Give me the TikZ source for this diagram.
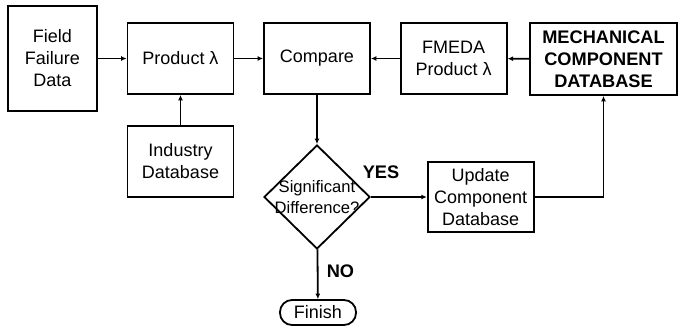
\documentclass[tikz,border=0pt]{standalone}
\usepackage{fontspec}
\setmainfont{Liberation Sans}
\usetikzlibrary{shapes.geometric,arrows.meta}
\begin{document}
\begin{tikzpicture}[x=1pt,y=-1pt,
  font=\fontsize{18}{22}\selectfont,
  every node/.style={align=center, inner sep=0pt},
  blk/.style={draw, line width=1.8pt, minimum width=106pt, minimum height=71pt},
  decision/.style={draw, diamond, line width=1.8pt, minimum width=106pt, minimum height=104pt},
  term/.style={draw, rounded corners=12pt, line width=1.8pt, minimum width=76pt, minimum height=25pt},
  flow/.style={line width=1.8pt, -{Latex[length=5.5pt,width=5pt]}},
  lbl/.style={font=\fontsize{18.2}{22}\selectfont\bfseries}]
\useasboundingbox (0,0) rectangle (678,326);
\node[blk, minimum width=89pt, minimum height=105pt] (field) at (52.5,58.5){Field\\Failure\\Data};
\node[blk] (prod) at (180.5,58.5){Product λ};
\node[blk] (comp) at (317,58.5){Compare};
\node[blk] (fmeda) at (453.7,58.5){FMEDA\\Product λ};
\node[blk, minimum width=147pt, minimum height=72pt, font=\fontsize{18.2}{22}\selectfont\bfseries] (mech) at (603.5,59){MECHANICAL\\COMPONENT\\DATABASE};
\node[blk] (ind) at (180.5,161.5){Industry\\Database};
\node[decision, label={[align=center, font=\fontsize{16.6}{20.7}\selectfont]center:{Significant\\Difference?}}] (diff) at (317,197){};
\node[blk, minimum height=70pt] (upd) at (480.7,197){Update\\Component\\Database};
\node[term] (fin) at (318,312.5){Finish};
\node[lbl] (yes) at (381,172){YES};
\node[lbl] (no) at (340.5,271.5){NO};
\draw[flow](field) -- (prod);
\draw[flow](prod) -- (comp);
\draw[flow](fmeda) -- (comp);
\draw[flow](mech) -- (fmeda);
\draw[flow](ind) -- (prod);
\draw[flow](comp) -- (diff);
\draw[flow](diff) -- (upd);
\draw[flow](upd.east) -| (mech.south);
\draw[flow](diff) -- (fin);
\end{tikzpicture}
\end{document}
